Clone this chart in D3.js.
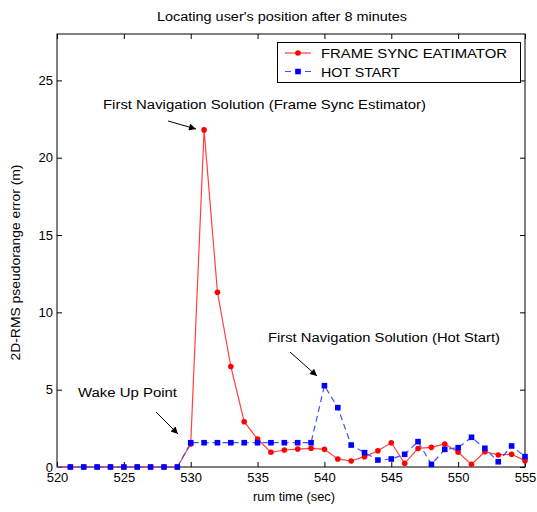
<!DOCTYPE html>
<html>
<head>
<meta charset="utf-8">
<script src="https://cdn.jsdelivr.net/npm/d3@7"></script>
<style>
  body { margin: 0; background: #fff; }
  text { font-family: "Liberation Sans", Arial, sans-serif; }
</style>
</head>
<body>
<svg id="chart" width="537" height="512"></svg>
<script>
// run time (sec)
let times = [520, 521, 522, 523, 524, 525, 526, 527, 528, 529, 530, 531, 532, 533, 534, 535, 536, 537,
  538, 539, 540, 541, 542, 543, 544, 545, 546, 547, 548, 549, 550, 551, 552, 553, 554, 555]
// 2D-RMS error, frame sync estimator
let frameSync = [0, 0, 0, 0, 0, 0, 0, 0, 0, 0, 1.49, 21.8, 11.3, 6.5, 2.93, 1.81, 0.95, 1.1,
  1.16, 1.21, 1.14, 0.52, 0.39, 0.67, 1.05, 1.57, 0.24, 1.2, 1.27, 1.49, 0.95, 0.17, 0.99, 0.78, 0.82, 0.41]
// 2D-RMS error, hot start
let hotStart = [0, 0, 0, 0, 0, 0, 0, 0, 0, 0, 1.57, 1.57, 1.57, 1.57, 1.57, 1.57, 1.57, 1.57,
  1.57, 1.57, 5.26, 3.84, 1.42, 0.93, 0.45, 0.52, 0.82, 1.64, 0.17, 1.14, 1.25, 1.92, 1.21, 0.34, 1.36, 0.67]
let xTicks = [520, 525, 530, 535, 540, 545, 550, 555]
let yTicks = [0, 5, 10, 15, 20, 25]

let margin = {top: 34, right: 12, bottom: 45, left: 57}
let width = 537
let height = 512

const svg = d3.select("#chart")

let x = d3.scaleLinear().domain([520, 555]).range([margin.left, width - margin.right])
let y = d3.scaleLinear().domain([0, 28]).range([height - margin.bottom, margin.top])

let redSeries = times.map((t, i) => ({t: t, v: frameSync[i]}))
let blueSeries = times.map((t, i) => ({t: t, v: hotStart[i]}))

// stretch a text to the width it has in the (wider-font) original
let fit = (sel, w) => sel.attr("textLength", w).attr("lengthAdjust", "spacingAndGlyphs")

svg.append("rect").attr("width", width).attr("height", height).attr("fill", "#fff")

// axes with inward ticks on all four sides (matlab box)
let tl = 5
svg.append("g")
  .attr("transform", `translate(0,${y(0)})`)
  .call(d3.axisBottom(x).tickValues(xTicks).tickSize(-tl).tickPadding(6).tickSizeOuter(0))
  .call(g => g.select(".domain").remove())
svg.append("g")
  .attr("transform", `translate(0,${y(28)})`)
  .call(d3.axisTop(x).tickValues(xTicks).tickSize(-tl).tickFormat("").tickSizeOuter(0))
  .call(g => g.select(".domain").remove())
svg.append("g")
  .attr("transform", `translate(${x(520)},0)`)
  .call(d3.axisLeft(y).tickValues(yTicks).tickSize(-tl).tickPadding(4).tickSizeOuter(0))
  .call(g => g.select(".domain").remove())
svg.append("g")
  .attr("transform", `translate(${x(555)},0)`)
  .call(d3.axisRight(y).tickValues(yTicks).tickSize(-tl).tickFormat("").tickSizeOuter(0))
  .call(g => g.select(".domain").remove())

svg.selectAll(".tick text")
  .attr("font-size", 13)
  .attr("font-family", "Liberation Sans, Arial, sans-serif")
  .attr("fill", "#000")
svg.selectAll(".tick line").attr("stroke", "#000")

svg.append("rect")
  .attr("x", x(520)).attr("y", y(28))
  .attr("width", x(555) - x(520)).attr("height", y(0) - y(28))
  .attr("fill", "none").attr("stroke", "#000").attr("stroke-width", 1)

// series
let line = d3.line().x(d => x(d.t)).y(d => y(d.v))

svg.append("path")
  .datum(redSeries)
  .attr("d", line)
  .attr("fill", "none")
  .attr("stroke", "#ff4040")
  .attr("stroke-width", 1.2)

svg.append("g").selectAll("circle")
  .data(redSeries.filter(d => d.t > 520))
  .join("circle")
  .attr("cx", d => x(d.t)).attr("cy", d => y(d.v))
  .attr("r", 2.8)
  .attr("fill", "#ff0000")

svg.append("path")
  .datum(blueSeries)
  .attr("d", line)
  .attr("fill", "none")
  .attr("stroke", "#4050ff")
  .attr("stroke-width", 1.2)
  .attr("stroke-dasharray", "6,4")

svg.append("g").selectAll("rect")
  .data(blueSeries.filter(d => d.t > 520))
  .join("rect")
  .attr("x", d => x(d.t) - 2.8).attr("y", d => y(d.v) - 2.8)
  .attr("width", 5.6).attr("height", 5.6)
  .attr("fill", "#0000ff")

// title and axis labels
svg.append("text")
  .attr("x", 282).attr("y", 21)
  .attr("text-anchor", "middle").attr("font-size", 12)
  .call(fit, 250)
  .text("Locating user's position after 8 minutes")

svg.append("text")
  .attr("x", 294).attr("y", 501)
  .attr("text-anchor", "middle").attr("font-size", 12)
  .call(fit, 82)
  .text("rum time (sec)")

svg.append("text")
  .attr("transform", `translate(20,${(y(0) + y(28)) / 2 + 12}) rotate(-90)`)
  .attr("text-anchor", "middle").attr("font-size", 12)
  .call(fit, 196)
  .text("2D-RMS pseudorange error (m)")

// legend
let lg = svg.append("g")
lg.append("rect")
  .attr("x", 277.5).attr("y", 42.5).attr("width", 243).attr("height", 40)
  .attr("fill", "#fff").attr("stroke", "#000")
lg.append("line").attr("x1", 285).attr("x2", 311).attr("y1", 53).attr("y2", 53)
  .attr("stroke", "#ff4040").attr("stroke-width", 1.2)
lg.append("circle").attr("cx", 298).attr("cy", 53).attr("r", 2.8).attr("fill", "#ff0000")
lg.append("line").attr("x1", 285).attr("x2", 311).attr("y1", 71.5).attr("y2", 71.5)
  .attr("stroke", "#4050ff").attr("stroke-width", 1.2).attr("stroke-dasharray", "6,4")
lg.append("rect").attr("x", 295.2).attr("y", 68.7).attr("width", 5.6).attr("height", 5.6).attr("fill", "#0000ff")
lg.append("text").attr("x", 321).attr("y", 58).attr("font-size", 13).call(fit, 186).text("FRAME SYNC EATIMATOR")
lg.append("text").attr("x", 321).attr("y", 76.5).attr("font-size", 13).call(fit, 79).text("HOT START")

// annotations
svg.append("defs").append("marker")
  .attr("id", "arrow").attr("viewBox", "0 0 10 10")
  .attr("refX", 10).attr("refY", 5)
  .attr("markerWidth", 9).attr("markerHeight", 7)
  .attr("markerUnits", "userSpaceOnUse")
  .attr("orient", "auto")
  .append("path").attr("d", "M0,0 L10,5 L0,10 Z").attr("fill", "#000")

let notes = [
  {text: "First Navigation Solution (Frame Sync Estimator)", w: 323, tx: 103, ty: 109, x1: 168, y1: 121, x2: 196, y2: 129},
  {text: "First Navigation Solution (Hot Start)", w: 232, tx: 268, ty: 342, x1: 290, y1: 352, x2: 317, y2: 376},
  {text: "Wake Up Point", w: 99, tx: 78, ty: 397, x1: 156, y1: 412, x2: 178, y2: 434}
]
notes.forEach(n => {
  svg.append("text").attr("x", n.tx).attr("y", n.ty).attr("font-size", 12.5).call(fit, n.w).text(n.text)
  svg.append("line")
    .attr("x1", n.x1).attr("y1", n.y1).attr("x2", n.x2).attr("y2", n.y2)
    .attr("stroke", "#000").attr("stroke-width", 1)
    .attr("marker-end", "url(#arrow)")
})
</script>
</body>
</html>
